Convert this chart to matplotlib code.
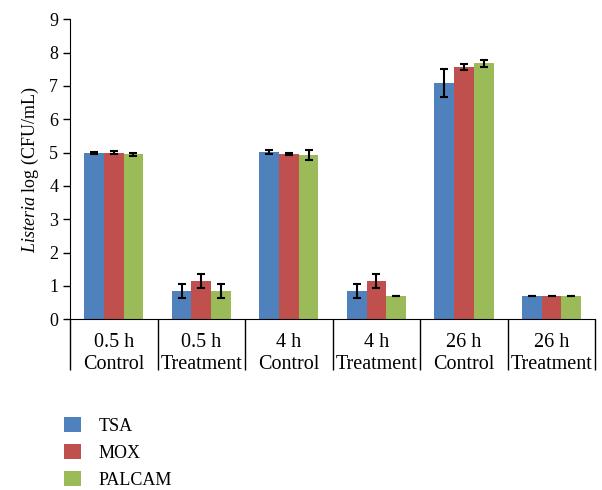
import matplotlib.pyplot as plt
import numpy as np

plt.rcParams['font.family'] = ['Liberation Serif', 'DejaVu Serif']
plt.rcParams['mathtext.fontset'] = 'custom'
plt.rcParams['mathtext.rm'] = 'Liberation Serif'
plt.rcParams['mathtext.it'] = 'Liberation Serif:italic'

# datos
categories = ["0.5 h\nControl", "0.5 h\nTreatment", "4 h\nControl",
              "4 h\nTreatment", "26 h\nControl", "26 h\nTreatment"]
series = ["TSA", "MOX", "PALCAM"]
tsa = [5.00, 0.85, 5.02, 0.85, 7.10, 0.70]
tsa_err = [0.03, 0.21, 0.07, 0.21, 0.42, 0.0]
mox = [5.00, 1.15, 4.96, 1.15, 7.57, 0.70]
mox_err = [0.05, 0.21, 0.02, 0.21, 0.10, 0.0]
palcam = [4.95, 0.85, 4.93, 0.70, 7.68, 0.70]
palcam_err = [0.05, 0.21, 0.14, 0.0, 0.10, 0.0]
colors = ["#4F81BD", "#C0504D", "#9BBB59"]

fig = plt.figure(figsize=(6.02, 4.9), dpi=100)
ax = fig.add_axes([0.1163, 0.3484, 0.8726, 0.6122])

x = np.arange(len(categories))
w = 0.225
vals = [tsa, mox, palcam]
errs = [tsa_err, mox_err, palcam_err]
for i in range(3):
    ax.bar(x + (i - 1) * w, vals[i], w, color=colors[i], label=series[i],
           yerr=errs[i], capsize=3,
           error_kw=dict(elinewidth=1.5, capthick=1.5, ecolor='black'))

ax.set_xlim(-0.5, len(categories) - 0.5)
ax.set_ylim(0, 9)
ax.set_yticks(range(10))
ax.tick_params(axis='y', labelsize=13, length=5, width=1, direction='out')

# separadores de categoria
ax.set_xticks(x)
ax.set_xticklabels(categories, fontsize=14.5, linespacing=1.2)
ax.tick_params(axis='x', which='major', length=0, pad=10)
ax.set_xticks(np.arange(len(categories) + 1) - 0.5, minor=True)
ax.tick_params(axis='x', which='minor', length=37, width=1)

ax.spines['top'].set_visible(False)
ax.spines['right'].set_visible(False)
ax.set_ylabel(r"$\it{Listeria}$ log (CFU/mL)", fontsize=13, labelpad=6)

fig.legend(loc='upper left', bbox_to_anchor=(0.095, 0.163), frameon=False,
           fontsize=13, handlelength=0.9, handleheight=0.9,
           labelspacing=0.5, handletextpad=1.0, borderaxespad=0)

fig.savefig("out.png", dpi=100)
